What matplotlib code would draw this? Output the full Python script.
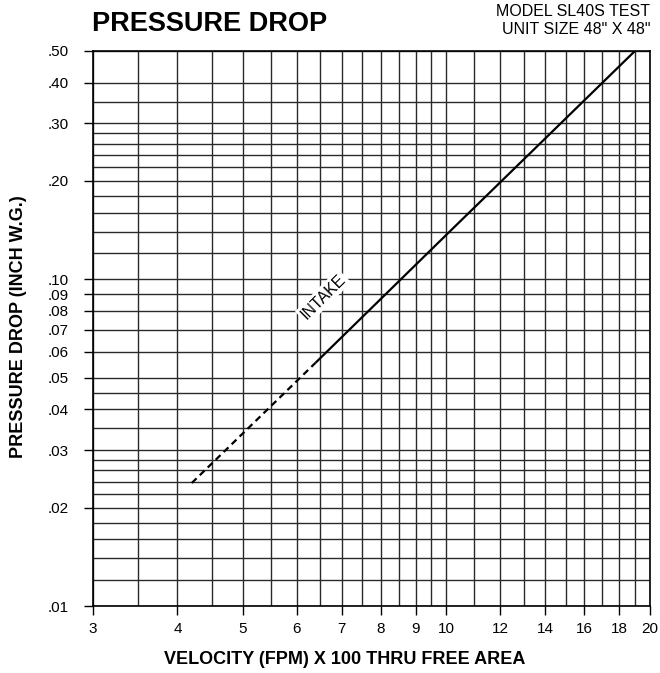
import matplotlib
matplotlib.use("Agg")
import matplotlib.pyplot as plt
from matplotlib.ticker import FixedLocator, NullFormatter

plt.rcParams["font.family"] = ["Liberation Sans", "DejaVu Sans"]

# Intake curve (velocity in FPM x 100, pressure drop in inch W.G.)
dashed_velocity = [4.2, 6.4]
dashed_drop = [0.0238, 0.0555]
solid_velocity = [6.4, 10, 14, 19]
solid_drop = [0.0555, 0.137, 0.27, 0.50]

# Labelled ticks
x_ticks = [3, 4, 5, 6, 7, 8, 9, 10, 12, 14, 16, 18, 20]
y_ticks = [0.01, 0.02, 0.03, 0.04, 0.05, 0.06, 0.07, 0.08, 0.09, 0.10,
           0.20, 0.30, 0.40, 0.50]
y_tick_labels = [".01", ".02", ".03", ".04", ".05", ".06", ".07", ".08",
                 ".09", ".10", ".20", ".30", ".40", ".50"]

# Grid rulings of the log paper
x_grid = [3, 3.5, 4, 4.5, 5, 5.5, 6, 6.5, 7, 7.5, 8, 8.5, 9, 9.5, 10,
          11, 12, 13, 14, 15, 16, 17, 18, 19, 20]
y_grid = [0.01, 0.012, 0.014, 0.016, 0.018, 0.02, 0.022, 0.024, 0.026, 0.028,
          0.03, 0.035, 0.04, 0.045, 0.05, 0.06, 0.07, 0.08, 0.09, 0.10,
          0.12, 0.14, 0.16, 0.18, 0.20, 0.22, 0.24, 0.26, 0.28, 0.30,
          0.35, 0.40, 0.50]

fig = plt.figure(figsize=(6.6, 6.73), dpi=100)
ax = fig.add_axes([93 / 660, 1 - 606 / 673, 557 / 660, 555 / 673])
ax.set_xscale("log")
ax.set_yscale("log")
ax.set_xlim(3, 20)
ax.set_ylim(0.01, 0.50)

# -- grid --
ax.xaxis.set_major_locator(FixedLocator(x_ticks))
ax.xaxis.set_minor_locator(FixedLocator([v for v in x_grid if v not in x_ticks]))
ax.yaxis.set_major_locator(FixedLocator(y_ticks))
ax.yaxis.set_minor_locator(FixedLocator([v for v in y_grid if v not in y_ticks]))
ax.set_xticklabels([str(v) for v in x_ticks])
ax.set_yticklabels(y_tick_labels)
ax.xaxis.set_minor_formatter(NullFormatter())
ax.yaxis.set_minor_formatter(NullFormatter())
ax.grid(True, which="both", color="#2a2a2a", linewidth=1.0, zorder=1)
ax.set_axisbelow(True)
ax.tick_params(which="major", direction="out", length=6.5, width=1.0,
               labelsize=11, color="black")
ax.tick_params(axis="x", which="major", pad=5)
ax.tick_params(axis="y", which="major", pad=11)
ax.tick_params(which="minor", length=0)
for sp in ax.spines.values():
    sp.set_linewidth(1.2)
    sp.set_color("black")

# -- intake curve --
ax.plot(dashed_velocity, dashed_drop, color="black", linewidth=1.6,
        linestyle=(0, (3, 2)), zorder=3)
ax.plot(solid_velocity, solid_drop, color="black", linewidth=1.6,
        solid_capstyle="butt", zorder=3)
ax.text(6.57, 0.0883, "INTAKE", fontsize=11.5, rotation=45,
        rotation_mode="anchor", ha="center", va="center", zorder=4,
        bbox=dict(facecolor="white", edgecolor="none", pad=1.5))

# -- titles and axis labels --
fig.text(92 / 660, 1 - 24 / 673, "PRESSURE DROP", fontsize=19.5,
         fontweight="bold", ha="left", va="center")
fig.text(650 / 660, 1 - 12 / 673, "MODEL SL40S TEST", fontsize=11.5,
         ha="right", va="center")
fig.text(650 / 660, 1 - 30 / 673, 'UNIT SIZE 48" X 48"', fontsize=11.5,
         ha="right", va="center")
fig.text(345 / 660, 1 - 660 / 673, "VELOCITY (FPM) X 100 THRU FREE AREA",
         fontsize=13, fontweight="bold", ha="center", va="center")
fig.text(19 / 660, 1 - 327 / 673, "PRESSURE DROP (INCH W.G.)",
         fontsize=13, fontweight="bold", rotation=90, ha="center", va="center")

fig.savefig("out.png", dpi=100)
